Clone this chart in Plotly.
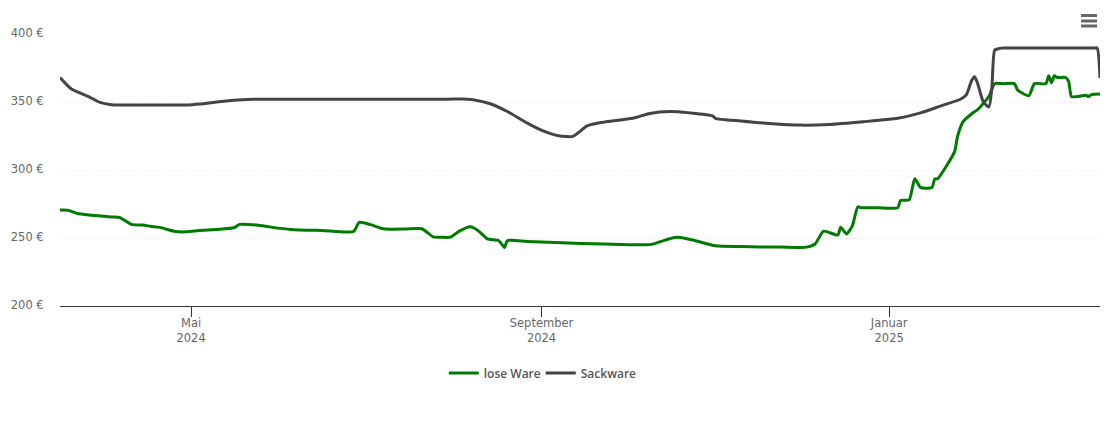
import plotly.graph_objects as go

# 1. THE DATA
lose_dates = [
    "2024-03-16", "2024-03-19", "2024-03-22", "2024-03-27", "2024-04-03", "2024-04-06", "2024-04-10",
    "2024-04-14", "2024-04-17", "2024-04-20", "2024-04-25", "2024-04-28", "2024-05-04", "2024-05-10",
    "2024-05-16", "2024-05-18", "2024-05-24", "2024-05-29", "2024-06-05", "2024-06-16", "2024-06-27",
    "2024-06-29", "2024-07-03", "2024-07-07", "2024-07-10", "2024-07-15", "2024-07-21", "2024-07-25", "2024-07-28", "2024-07-31",
    "2024-08-03", "2024-08-07", "2024-08-10", "2024-08-13", "2024-08-17", "2024-08-19", "2024-08-20",
    "2024-08-27", "2024-09-15", "2024-10-08", "2024-10-10", "2024-10-16", "2024-10-19", "2024-10-25",
    "2024-11-01", "2024-11-10", "2024-11-24", "2024-12-03", "2024-12-06", "2024-12-09", "2024-12-14",
    "2024-12-15", "2024-12-17", "2024-12-19", "2024-12-21", "2024-12-22", "2024-12-28", "2025-01-04", "2025-01-05",
    "2025-01-08", "2025-01-10", "2025-01-12", "2025-01-16", "2025-01-17", "2025-01-18", "2025-01-21",
    "2025-01-24", "2025-01-25", "2025-01-27", "2025-01-30", "2025-02-01", "2025-02-05", "2025-02-07",
    "2025-02-10", "2025-02-14", "2025-02-15", "2025-02-19", "2025-02-21", "2025-02-25", "2025-02-26", "2025-02-27",
    "2025-02-28", "2025-03-01", "2025-03-04", "2025-03-05", "2025-03-06", "2025-03-08", "2025-03-11",
    "2025-03-12", "2025-03-13", "2025-03-16",
]
lose_values = [
    270.5, 270.3, 268, 266.8, 265.5, 265, 260,
    259.5, 258.5, 257.8, 255, 254.5, 255.5, 256.3,
    257.5, 260, 259.5, 258, 256.3, 255.5, 254.8,
    261.5, 259.8, 257, 256.5, 256.6, 256.8, 250.8, 250.6, 250.6,
    254.9, 258.2, 255, 249.3, 248, 243, 248,
    247.5, 246, 245, 245.5, 249.5, 250.5, 248,
    244.3, 243.7, 243.3, 243.3, 245.6, 255, 252.2,
    258, 253, 258.5, 273, 272.3, 272.3, 272.3, 277.6,
    278, 293.6, 287.2, 287.2, 293.4, 293.6, 302.6,
    313.7, 324.7, 335.7, 341.4, 344.3, 354, 363.5,
    363.5, 363.5, 359, 354.6, 363.5, 363.5, 369.3, 364.2,
    369.3, 368, 368, 365, 354, 354, 355,
    354, 355.4, 355.8,
]

sack_dates = [
    "2024-03-16", "2024-03-20", "2024-03-26", "2024-03-30", "2024-04-03", "2024-04-06", "2024-04-15", "2024-04-30",
    "2024-05-04", "2024-05-15", "2024-05-23", "2024-06-01", "2024-06-20", "2024-07-10", "2024-07-30", "2024-08-06", "2024-08-08", "2024-08-14", "2024-08-20",
    "2024-08-27", "2024-09-02", "2024-09-07", "2024-09-12", "2024-09-14", "2024-09-17", "2024-09-23",
    "2024-10-03", "2024-10-09", "2024-10-16", "2024-10-23", "2024-10-31", "2024-11-01", "2024-11-10",
    "2024-11-20", "2024-12-01", "2024-12-11", "2024-12-23", "2025-01-04", "2025-01-12", "2025-01-19",
    "2025-01-26", "2025-01-28", "2025-01-30", "2025-01-31", "2025-02-01", "2025-02-03", "2025-02-05",
    "2025-02-06", "2025-02-07", "2025-02-08", "2025-02-10", "2025-02-20", "2025-03-05", "2025-03-14", "2025-03-15", "2025-03-16",
]
sack_values = [
    368, 359.5, 354, 349.7, 348, 347.8, 347.8, 347.8,
    348.5, 351.1, 352, 352.1, 352.1, 352.1, 352.1, 352.1, 351.7, 348.7, 343,
    334.5, 328.4, 325.2, 324.7, 327.6, 332.5, 335.2,
    338, 341.6, 343, 342, 339.8, 338, 336,
    334.2, 333, 333.5, 335.5, 338, 342, 347,
    352, 355, 366, 368.6, 364, 350.4, 346.3,
    359, 388, 389, 389.7, 389.7, 389.7, 389.7, 389.7, 367.7,
]

month_ticks = ["2024-05-01", "2024-09-01", "2025-01-01"]
month_labels = ["Mai<br>2024", "September<br>2024", "Januar<br>2025"]
euro_ticks = [200, 250, 300, 350, 400]
euro_labels = ["200 €", "250 €", "300 €", "350 €", "400 €"]

GREY_TEXT = "#666666"

# 2. THE CHART
fig = go.Figure()
fig.add_trace(go.Scatter(
    name="lose Ware", x=lose_dates, y=lose_values, mode="lines",
    line=dict(color="#007a00", width=3, shape="spline", smoothing=0.6),
))
fig.add_trace(go.Scatter(
    name="Sackware", x=sack_dates, y=sack_values, mode="lines",
    line=dict(color="#434348", width=3, shape="spline", smoothing=0.6),
))

# the page body adds 8px on the left and top, so the figure is 8px smaller
fig.update_layout(
    width=1102, height=415,
    margin=dict(l=52, r=10, t=26, b=117),
    plot_bgcolor="white", paper_bgcolor="white",
    font=dict(family="DejaVu Sans", size=11.5, color=GREY_TEXT),
    legend=dict(
        orientation="h", x=0.369, xanchor="left", y=-0.193, yanchor="top",
        font=dict(family="Open Sans", size=12, color="#555555", weight=600),
        itemwidth=30, entrywidth=52, entrywidthmode="pixels",
    ),
)
fig.update_xaxes(
    type="date", range=["2024-03-16", "2025-03-16"], automargin=False,
    tickmode="array", tickvals=month_ticks, ticktext=month_labels,
    ticks="outside", ticklen=10, tickcolor="#333333", tickwidth=1,
    ticklabelstandoff=-4,
    showline=True, linecolor="#333333", linewidth=1, showgrid=False, zeroline=False,
)
fig.update_yaxes(
    range=[200, 400], automargin=False, tickmode="array", tickvals=euro_ticks, ticktext=euro_labels,
    ticks="outside", ticklen=13, tickcolor="rgba(0,0,0,0)", ticklabelshift=-1,
    showgrid=True, gridcolor="#e6e6e6", griddash="1px,2px", gridwidth=1,
    showline=False, zeroline=False,
)

# menu icon, top right
for offset in [18.5, 13, 8]:
    fig.add_shape(
        type="line", xref="paper", yref="paper", xsizemode="pixel", ysizemode="pixel",
        xanchor=1, yanchor=1, x0=-19, x1=-3, y0=offset, y1=offset,
        line=dict(color=GREY_TEXT, width=3),
    )

fig.write_html("out.html", config={"displayModeBar": False})
